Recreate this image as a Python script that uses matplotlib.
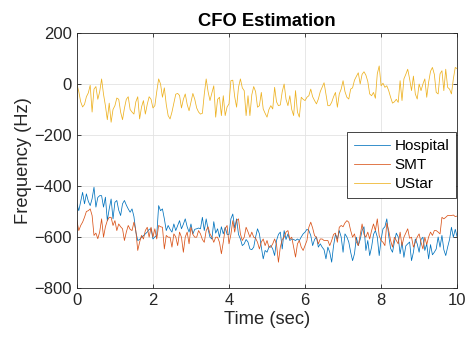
import numpy as np
import matplotlib
matplotlib.use("Agg")
import matplotlib.pyplot as plt

# time axis, 0.05 s step
t = np.arange(201) * 0.05

hospital = [
    -470, -497, -460, -425, -470, -431, -460, -477, -450, -405, -483, -445, -438, -438, -483, -444, -536, -490, -451, -529,
    -464, -457, -495, -516, -470, -457, -475, -490, -503, -490, -520, -580, -614, -610, -601, -595, -588, -581, -570, -568,
    -608, -600, -594, -477, -497, -490, -529, -575, -555, -570, -581, -549, -575, -555, -536, -568, -550, -529, -560, -581,
    -549, -588, -570, -568, -565, -568, -523, -575, -529, -570, -601, -608, -540, -585, -568, -601, -560, -588, -562, -590,
    -590, -529, -510, -565, -529, -590, -608, -634, -627, -610, -620, -647, -650, -640, -600, -568, -588, -640, -686, -653,
    -660, -640, -634, -647, -673, -614, -590, -581, -647, -575, -610, -588, -614, -608, -610, -614, -608, -614, -600, -588,
    -581, -570, -575, -594, -634, -610, -600, -640, -627, -640, -650, -686, -640, -660, -699, -634, -590, -608, -575, -600,
    -660, -588, -600, -620, -660, -693, -666, -601, -634, -610, -575, -560, -653, -614, -673, -640, -590, -575, -600, -673,
    -610, -568, -560, -529, -595, -645, -660, -620, -585, -600, -666, -621, -680, -635, -627, -620, -693, -660, -608, -627,
    -660, -610, -601, -653, -627, -686, -630, -670, -660, -647, -600, -640, -594, -650, -673, -640, -610, -562, -601, -570,
    -600,
]

smt = [
    -536, -575, -555, -542, -523, -500, -497, -490, -516, -594, -585, -607, -580, -529, -601, -560, -536, -523, -523, -555,
    -536, -575, -549, -560, -568, -614, -581, -555, -570, -575, -542, -575, -653, -620, -594, -608, -575, -562, -601, -562,
    -601, -568, -608, -555, -560, -562, -647, -594, -601, -601, -640, -588, -600, -634, -581, -601, -660, -600, -581, -627,
    -562, -590, -601, -601, -575, -588, -610, -621, -575, -560, -588, -601, -621, -601, -601, -621, -666, -620, -568, -555,
    -627, -590, -536, -581, -536, -529, -588, -614, -601, -562, -580, -601, -581, -601, -605, -621, -647, -620, -608, -634,
    -614, -640, -640, -627, -608, -630, -699, -640, -610, -601, -581, -575, -608, -601, -640, -679, -627, -614, -640, -653,
    -634, -614, -562, -542, -565, -595, -601, -627, -608, -608, -614, -614, -614, -634, -614, -590, -585, -621, -562, -555,
    -560, -545, -536, -542, -575, -601, -588, -620, -634, -594, -549, -590, -601, -581, -608, -575, -549, -575, -529, -595,
    -614, -621, -634, -545, -575, -614, -640, -601, -614, -627, -581, -634, -601, -585, -568, -605, -601, -640, -621, -600,
    -588, -621, -647, -601, -630, -600, -581, -594, -575, -575, -581, -588, -523, -529, -523, -516, -516, -516, -514, -520,
    -518,
]

ustar = [
    0, -30, -70, -90, -80, -50, -35, -5, -110, -20, -10, -60, -30, 20, -40, -85, -140, -75, -150, -100,
    -85, -55, -60, -110, -140, -95, -60, -50, -100, -110, -118, -70, -50, -137, -90, -65, -118, -80, -50, -60,
    -94, -85, -30, 20, 0, -52, -15, -80, -124, -137, -110, -75, -40, -37, -45, -94, -60, -39, -80, -105,
    -70, -37, -60, -94, -110, -118, -115, -40, 20, -30, -65, -35, -7, -130, -60, -52, -124, -46, -124, -90,
    -78, 13, 15, -50, -91, -13, 20, -15, -26, -124, -46, -124, -42, -10, -30, -91, -85, -33, -98, -115,
    -130, -100, -85, -98, -13, -70, -85, -82, -30, 0, -60, -85, -46, -100, -124, -26, -110, -130, -52, -60,
    -65, -52, -46, -20, -50, -65, -78, -59, -30, -13, 5, -40, -85, -85, -72, -50, -33, -91, -39, -20,
    13, -30, -52, -59, -20, -15, 15, 30, 44, 0, 38, 48, 35, 10, -39, -46, -33, -56, 40, 71,
    -7, 3, -13, -7, -26, -52, -75, -70, -60, -72, 13, -65, 20, 38, 58, 20, -26, 31, -39, -59,
    0, -26, 0, 20, -52, 7, 50, 65, 38, -33, -39, 40, 52, -26, 58, -13, -20, -39, 20, 65,
    60,
]

labels = ["Hospital", "SMT", "UStar"]
colors = ["#0072BD", "#D95319", "#EDB120"]

plt.rcParams['font.family'] = ['Liberation Sans', 'DejaVu Sans']

fig = plt.figure(figsize=(4.66, 3.44), dpi=100)
ax = fig.add_axes([0.165, 0.163, 0.816, 0.741])

for y, lab, c in zip([hospital, smt, ustar], labels, colors):
    ax.plot(t, y, color=c, lw=0.55, label=lab)

ax.set_xlim(0, 10)
ax.set_ylim(-800, 200)
ax.set_xticks(np.arange(0, 11, 2))
ax.set_yticks(np.arange(-800, 201, 200))
ax.grid(True, color='#e3e3e3', lw=0.6)
ax.set_axisbelow(True)

for s in ax.spines.values():
    s.set_color('#262626')
    s.set_linewidth(0.6)
ax.tick_params(direction='in', length=3, width=0.6, colors='#262626',
               labelsize=12, top=True, right=True, labeltop=False, labelright=False)

ax.set_xlabel("Time (sec)", fontsize=13.2, color='#262626', labelpad=2)
ax.set_ylabel("Frequency (Hz)", fontsize=13.2, color='#262626', labelpad=2)
ax.set_title("CFO Estimation", fontsize=13.2, fontweight='bold', pad=5)

leg = ax.legend(loc='upper right', bbox_to_anchor=(0.998, 0.61), fontsize=11,
                fancybox=False, framealpha=1, edgecolor='#262626',
                handlelength=2.4, handletextpad=0.3, labelspacing=0.32,
                borderpad=0.45, borderaxespad=0)
leg.get_frame().set_linewidth(0.6)

fig.savefig("out.png", dpi=100)
